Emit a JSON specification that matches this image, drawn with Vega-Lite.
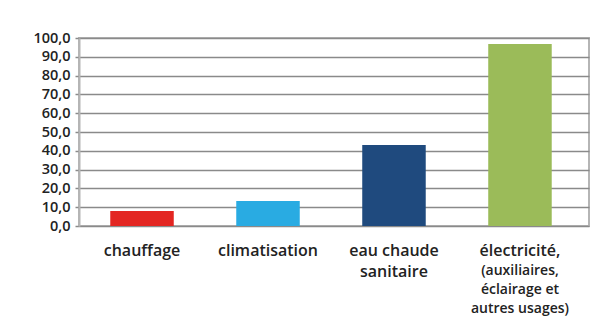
{
  "$schema": "https://vega.github.io/schema/vega-lite/v6.json",
  "width": 510,
  "height": 188,
  "autosize": "none",
  "padding": {"left": 79, "top": 38, "right": 19, "bottom": 104},
  "background": "white",
  "data": {
    "values": [
      {"cat": "chauffage", "val": 8.0},
      {"cat": "climatisation", "val": 13.3},
      {"cat": "eau chaude sanitaire", "val": 43.1},
      {"cat": "électricité, (auxiliaires, éclairage et autres usages)", "val": 96.8}
    ]
  },
  "encoding": {
    "y": {
      "field": "val",
      "type": "quantitative",
      "scale": {"domain": [0, 100]},
      "axis": {
        "title": null,
        "values": [0, 10, 20, 30, 40, 50, 60, 70, 80, 90, 100],
        "labelExpr": "replace(format(datum.value, '.1f'), '.', ',')",
        "grid": true,
        "gridColor": "#8a8a8a",
        "gridWidth": 1.5,
        "domain": true,
        "domainColor": "#b5b5b5",
        "domainWidth": 2,
        "ticks": true,
        "tickSize": 4,
        "tickColor": "#8a8a8a",
        "tickWidth": 1.5,
        "labelPadding": 5,
        "labelFont": "Open Sans",
        "labelFontSize": 14.5,
        "labelFontWeight": 600,
        "labelColor": "#222222"
      }
    },
    "color": {
      "field": "cat",
      "type": "nominal",
      "scale": {
        "domain": ["chauffage", "climatisation", "eau chaude sanitaire", "électricité, (auxiliaires, éclairage et autres usages)"],
        "range": ["#e32622", "#29abe2", "#1f4a7e", "#9bbb59"]
      },
      "legend": null
    }
  },
  "layer": [
    {
      "mark": {"type": "bar"},
      "encoding": {
        "x": {
          "field": "cat",
          "type": "nominal",
          "sort": null,
          "scale": {"paddingInner": 0.5, "paddingOuter": 0.274, "align": 0.4565},
          "axis": {
            "title": null,
            "labelAngle": 0,
            "domain": false,
            "ticks": false,
            "grid": false,
            "labelPadding": 16,
            "labelExpr": "indexof(datum.value, 'eau') == 0 ? 'eau chaude' : indexof(datum.value, 'électricité') == 0 ? 'électricité,' : datum.value",
            "labelFont": "Open Sans",
            "labelFontSize": 16,
            "labelFontWeight": 600,
            "labelColor": "#222222",
            "labelLimit": 200
          }
        }
      }
    },
    {
      "mark": {"type": "bar"},
      "encoding": {
        "x": {
          "field": "cat",
          "type": "nominal",
          "sort": null,
          "axis": {
            "title": null,
            "orient": "bottom",
            "labelAngle": 0,
            "domain": false,
            "ticks": false,
            "grid": false,
            "labelPadding": 37,
            "labelBaseline": "top",
            "labelLineHeight": 19,
            "labelExpr": "indexof(datum.value, 'eau') == 0 ? 'sanitaire' : indexof(datum.value, 'électricité') == 0 ? ['(auxiliaires,', 'éclairage et', 'autres usages)'] : ''",
            "labelFont": "Open Sans",
            "labelFontSize": {"condition": {"test": "indexof(datum.value, 'eau') == 0", "value": 16}, "value": 14},
            "labelFontWeight": 600,
            "labelColor": "#222222",
            "labelLimit": 200
          }
        }
      }
    }
  ],
  "resolve": {"axis": {"x": "independent"}},
  "config": {
    "view": {"stroke": "#b5b5b5", "strokeWidth": 2}
  }
}
